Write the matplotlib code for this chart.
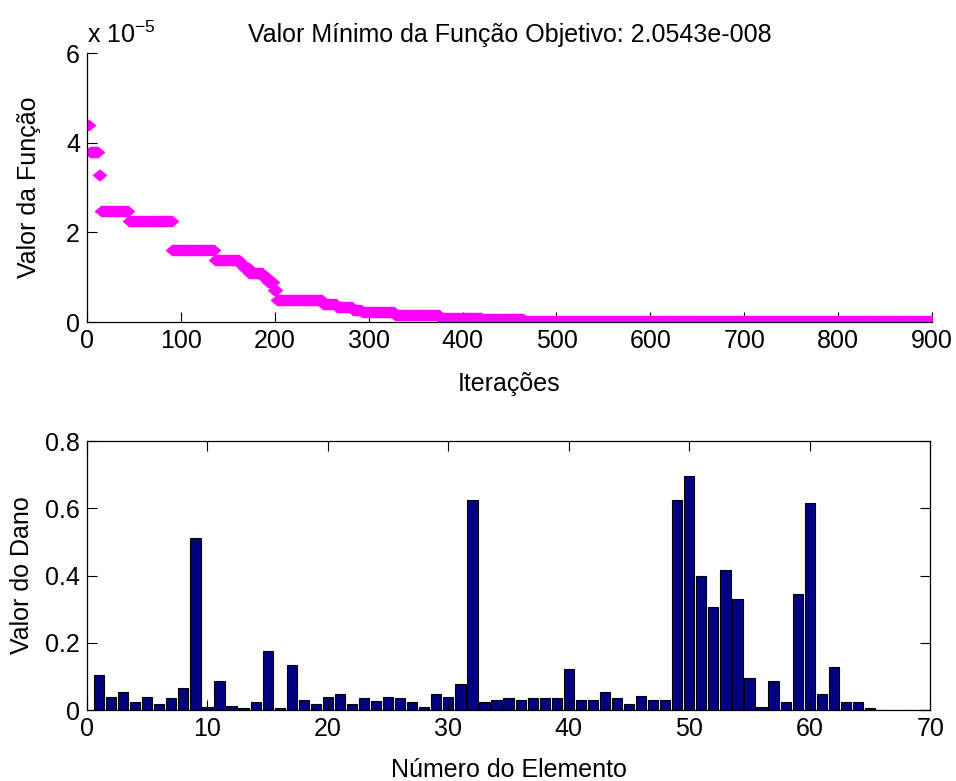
import numpy as np
import matplotlib.pyplot as plt
from matplotlib.path import Path

plt.rcParams['font.family'] = ['Liberation Sans', 'DejaVu Sans']
plt.rcParams['mathtext.fontset'] = 'custom'
plt.rcParams['mathtext.rm'] = 'Liberation Sans'
plt.rcParams['font.size'] = 18

# best objective value per iteration (step levels, x 1e-5)
seg_len = [2, 10, 2, 30, 46, 45, 27, 4, 6, 14, 6, 6, 3, 49, 15, 17, 10, 35, 48, 45, 44, 436]
seg_val = [4.4, 3.8, 3.27, 2.47, 2.25, 1.6, 1.38, 1.3, 1.2, 1.1, 1.0, 0.9, 0.72,
           0.48, 0.40, 0.33, 0.27, 0.22, 0.15, 0.10, 0.07, 0.02]

# damage per element
dano = [0.105, 0.040, 0.053, 0.023, 0.040, 0.017, 0.035, 0.065, 0.511, 0.010,
        0.087, 0.012, 0.005, 0.025, 0.175, 0.006, 0.134, 0.030, 0.017, 0.040,
        0.048, 0.017, 0.035, 0.028, 0.040, 0.035, 0.024, 0.010, 0.047, 0.040,
        0.076, 0.625, 0.023, 0.030, 0.037, 0.030, 0.035, 0.035, 0.035, 0.122,
        0.030, 0.030, 0.053, 0.035, 0.017, 0.042, 0.030, 0.030, 0.625, 0.696,
        0.400, 0.307, 0.416, 0.330, 0.094, 0.008, 0.087, 0.023, 0.344, 0.615,
        0.047, 0.129, 0.023, 0.023, 0.007, 0.0, 0.0, 0.0, 0.0, 0.0]

fval = np.repeat(seg_val, seg_len) * 1e-5
it = np.arange(1, len(fval) + 1)
elem = np.arange(1, len(dano) + 1)

diamond = Path([(-1, 0), (0, 0.85), (1, 0), (0, -0.85), (-1, 0)],
               [Path.MOVETO, Path.LINETO, Path.LINETO, Path.LINETO, Path.CLOSEPOLY])

fig = plt.figure(figsize=(9.56, 7.81), dpi=100)
ax1 = fig.add_axes([0.091, 0.5877, 0.884, 0.3443])
ax2 = fig.add_axes([0.091, 0.0909, 0.882, 0.3444])

ax1.plot(it, fval, linestyle='none', marker=diamond, markersize=10,
         color='#ff00ff', markeredgewidth=0)
ax1.set_xlim(0, 900)
ax1.set_ylim(0, 6e-5)
ax1.set_xticks(np.arange(0, 901, 100))
ax1.set_yticks([0, 2e-5, 4e-5, 6e-5])
ax1.set_yticklabels(['0', '2', '4', '6'])
ax1.spines['top'].set_visible(False)
ax1.spines['right'].set_visible(False)
ax1.tick_params(direction='in', length=7, width=0.8, pad=5)
ax1.set_xlabel('Iterações', labelpad=14)
ax1.set_ylabel('Valor da Função', labelpad=18)
ax1.set_title('Valor Mínimo da Função Objetivo: 2.0543e-008', fontsize=18, pad=8)
ax1.text(0, 1.02, 'x 10$^{\\mathrm{-5}}$', transform=ax1.transAxes,
         ha='left', va='bottom', fontsize=18)

ax2.bar(elem, dano, width=0.85, color='#000080', edgecolor='black', linewidth=0.8)
ax2.set_xlim(0, 70)
ax2.set_ylim(0, 0.8)
ax2.set_xticks(np.arange(0, 71, 10))
ax2.set_yticks([0, 0.2, 0.4, 0.6, 0.8])
ax2.set_yticklabels(['0', '0.2', '0.4', '0.6', '0.8'])
ax2.tick_params(direction='in', length=7, width=0.8, top=True, right=True, pad=5)
ax2.set_xlabel('Número do Elemento', labelpad=12)
ax2.set_ylabel('Valor do Dano', labelpad=8)

for ax in (ax1, ax2):
    for s in ax.spines.values():
        s.set_linewidth(0.9)

fig.savefig('out.png', dpi=100)
